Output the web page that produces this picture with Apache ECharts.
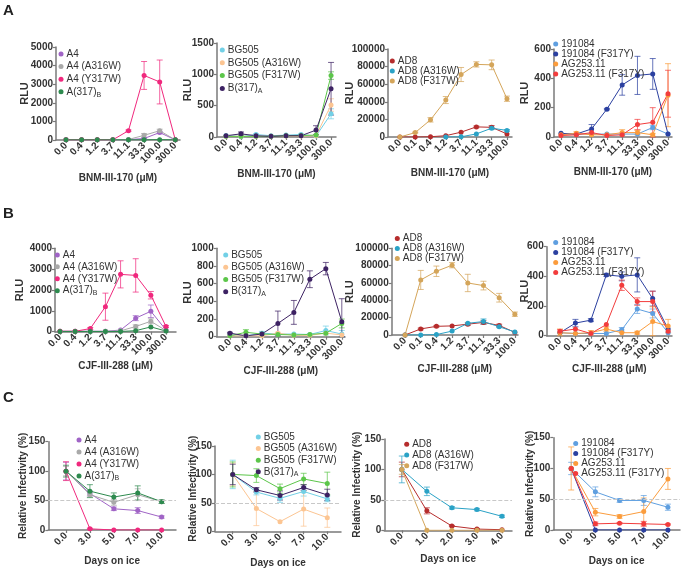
<!DOCTYPE html>
<html><head><meta charset="utf-8">
<script src="https://cdn.jsdelivr.net/npm/echarts@6/dist/echarts.min.js"></script>
<style>html,body{margin:0;padding:0;background:#fff}#c{width:684px;height:569px}</style>
</head><body><div id="c"></div>
<script>
// ---------- categories / tick labels ----------
const concStd = ['0.0','0.4','1.2','3.7','11.1','33.3','100.0','300.0'];
const concAD8 = ['0.0','0.1','0.4','1.2','3.7','11.1','33.3','100.0'];
const daysStd = ['0.0','3.0','5.0','7.0','10.0'];
const daysAD8 = ['0.0','1.0','2.0','3.0','4.0'];

// ---------- Row A : BNM-III-170 ----------
const a1_A4 = [10,10,10,10,20,80,400,10];
const a1_A4_err = [0,0,0,0,0,30,60,0];
const a1_A4A316W = [10,10,10,10,30,250,500,10];
const a1_A4A316W_err = [0,0,0,0,0,100,80,0];
const a1_A4Y317W = [10,10,10,10,500,3470,3120,10];
const a1_A4Y317W_err = [0,0,0,0,40,750,1180,0];
const a1_A317B = [10,10,10,10,10,10,20,10];
const a1_A317B_err = [0,0,0,0,0,0,0,0];

const a2_BG505 = [25,5,40,20,30,40,15,370];
const a2_BG505_err = [0,0,10,0,0,10,0,80];
const a2_BG505A316W = [10,10,10,10,15,15,20,510];
const a2_BG505A316W_err = [0,0,0,0,0,0,0,100];
const a2_BG505F317W = [10,10,10,10,20,25,30,980];
const a2_BG505F317W_err = [0,0,0,0,0,0,0,60];
const a2_B317A = [20,50,20,10,20,20,110,770];
const a2_B317A_err = [0,30,0,0,0,0,70,420];

const a3_AD8 = [0,0,300,1500,5500,11500,11000,3500];
const a3_AD8_err = [0,0,0,0,0,1000,2000,0];
const a3_AD8A316W = [null,null,null,0,200,3500,10000,7500];
const a3_AD8A316W_err = [0,0,0,0,0,0,1000,1000];
const a3_AD8F317W = [0,5000,19500,42000,71000,82500,82000,43500];
const a3_AD8F317W_err = [0,500,2500,4000,8000,3000,5500,3000];

const a4_191084 = [20,20,20,20,20,20,65,20];
const a4_191084_err = [0,0,0,0,0,0,15,0];
const a4_191084F317Y = [25,20,55,190,355,420,430,20];
const a4_191084F317Y_err = [0,0,30,5,70,130,105,0];
const a4_AG253 = [15,25,15,15,30,30,15,285];
const a4_AG253_err = [0,10,0,0,20,15,10,215];
const a4_AG253F317Y = [10,15,30,10,15,85,100,295];
const a4_AG253F317Y_err = [0,0,0,0,0,35,100,160];

// ---------- Row B : CJF-III-288 ----------
const b1_A4 = [20,20,20,20,80,650,980,80];
const b1_A4_err = [0,0,0,0,0,120,300,0];
const b1_A4A316W = [20,20,20,20,40,250,500,50];
const b1_A4A316W_err = [0,0,0,0,0,80,120,0];
const b1_A4Y317W = [20,20,150,1200,2750,2700,1750,250];
const b1_A4Y317W_err = [0,0,50,650,650,800,180,50];
const b1_A317B = [10,10,10,10,10,50,230,30];
const b1_A317B_err = [0,0,0,0,0,0,0,0];

const b2_BG505 = [20,10,40,30,30,25,70,30];
const b2_BG505_err = [0,0,20,0,0,10,50,40];
const b2_BG505A316W = [10,10,10,40,15,15,40,20];
const b2_BG505A316W_err = [0,0,0,10,0,0,0,0];
const b2_BG505F317W = [10,50,30,25,20,25,40,150];
const b2_BG505F317W_err = [0,30,0,0,0,0,0,50];
const b2_B317A = [40,10,30,150,275,650,770,170];
const b2_B317A_err = [10,0,0,140,135,95,70,260];

const b3_AD8 = [0,7000,10000,10500,12500,14500,11000,3000];
const b3_AD8_err = [0,1000,1000,0,1500,2000,1500,0];
const b3_AD8A316W = [0,0,500,4500,13500,15500,9500,3500];
const b3_AD8A316W_err = [0,0,0,0,0,3000,1000,0];
const b3_AD8F317W = [0,63500,73500,80500,60000,57000,43000,24000];
const b3_AD8F317W_err = [0,11000,6000,3000,10000,5000,5000,2500];

const b4_191084 = [20,15,15,15,40,180,150,20];
const b4_191084_err = [0,0,0,0,15,30,30,0];
const b4_191084F317Y = [20,85,105,410,400,410,250,45];
const b4_191084F317Y_err = [0,25,10,10,30,115,50,0];
const b4_AG253 = [20,15,20,45,20,20,95,65];
const b4_AG253_err = [25,0,15,15,0,10,100,45];
const b4_AG253F317Y = [30,45,15,75,340,230,230,30];
const b4_AG253F317Y_err = [10,0,0,0,35,25,70,0];

// ---------- Row C : Days on ice ----------
const c1_A4 = [100,62,36,33,22];
const c1_A4_err = [15,4,3,5,2];
const c1_A4A316W = [100,60,47,60,48];
const c1_A4A316W_err = [8,4,5,10,3];
const c1_A4Y317W = [100,2,0,0,0];
const c1_A4Y317W_err = [16,1,0,0,0];
const c1_A317B = [100,66,56,63,48];
const c1_A317B_err = [10,11,7,12,3];

const c2_BG505 = [100,69,58,70,57];
const c2_BG505_err = [25,5,7,8,5];
const c2_BG505A316W = [100,40,17,39,24];
const c2_BG505A316W_err = [20,30,0,30,17];
const c2_BG505F317W = [100,98,75,92,84];
const c2_BG505F317W_err = [22,12,8,10,20];
const c2_B317A = [100,73,63,77,64];
const c2_B317A_err = [18,4,8,5,10];

const c3_AD8 = [100,32,7,2,1];
const c3_AD8_err = [12,5,1,1,0];
const c3_AD8A316W = [100,64,37,34,23];
const c3_AD8A316W_err = [22,7,2,2,2];
const c3_AD8F317W = [100,0,0,0,0];
const c3_AD8F317W_err = [8,0,0,0,0];

const c4_191084 = [100,62,48,48,37];
const c4_191084_err = [10,8,3,8,5];
const c4_191084F317Y = [100,0,0,0,0];
const c4_191084F317Y_err = [0,0,0,0,0];
const c4_AG253 = [100,29,22,30,83];
const c4_AG253_err = [35,6,3,22,17];
const c4_AG253F317Y = [100,10,11,10,9];
const c4_AG253F317Y_err = [0,3,1,4,1];

// ---------- styling ----------
const FONT = '"Liberation Sans", Arial, Helvetica, sans-serif';
const TXT = '#333333';
const AXIS = '#7a7a7a';
const COL = {
  'A4':'#a064c6','A4 (A316W)':'#a9a9a9','A4 (Y317W)':'#f0287d','A(317)B':'#2d8a4e',
  'BG505':'#72d0e6','BG505 (A316W)':'#fcc592','BG505 (F317W)':'#5cc64a','B(317)A':'#3d2263',
  'AD8':'#b62c2c','AD8 (A316W)':'#2aa2c6','AD8 (F317W)':'#d4a55a',
  '191084':'#5f9fe0','191084 (F317Y)':'#2b40a0','AG253.11':'#fb9c3c','AG253.11 (F317Y)':'#f23c3c'
};

// panel layout: grid rect (px), x-axis range in category-index units, y max/interval, legend placement
const panels = [
  {g:[56,47,124,93],   xr:[-0.64,7.3], ymax:5000, yint:1000, cats:concStd, xname:'BNM-III-170 (μM)', yname:'RLU', yg:31, xg:38,
   lg:[58.5,47.7,12.6], s:[['A4',a1_A4,a1_A4_err],['A4 (A316W)',a1_A4A316W,a1_A4A316W_err],['A4 (Y317W)',a1_A4Y317W,a1_A4Y317W_err],['A(317)B',a1_A317B,a1_A317B_err]]},
  {g:[217,43,119,94],  xr:[-0.6,7.33], ymax:1500, yint:500, cats:concStd, xname:'BNM-III-170 (μM)', yname:'RLU', yg:29.3, xg:37,
   lg:[219.8,43.6,12.8], s:[['BG505',a2_BG505,a2_BG505_err],['BG505 (A316W)',a2_BG505A316W,a2_BG505A316W_err],['BG505 (F317W)',a2_BG505F317W,a2_BG505F317W_err],['B(317)A',a2_B317A,a2_B317A_err]]},
  {g:[388,49,124,88],  xr:[-0.78,7.33], ymax:100000, yint:20000, cats:concAD8, xname:'BNM-III-170 (μM)', yname:'RLU', yg:38, xg:36,
   lg:[389.8,55.9,8.3], s:[['AD8',a3_AD8,a3_AD8_err],['AD8 (A316W)',a3_AD8A316W,a3_AD8A316W_err],['AD8 (F317W)',a3_AD8F317W,a3_AD8F317W_err]]},
  {g:[554,49,118,88],  xr:[-0.46,7.26], ymax:600, yint:200, cats:concStd, xname:'BNM-III-170 (μM)', yname:'RLU', yg:29, xg:35.7,
   lg:[553.2,39,8.7], s:[['191084',a4_191084,a4_191084_err],['191084 (F317Y)',a4_191084F317Y,a4_191084F317Y_err],['AG253.11',a4_AG253,a4_AG253_err],['AG253.11 (F317Y)',a4_AG253F317Y,a4_AG253F317Y_err]]},

  {g:[55,248.3,121,83.4], xr:[-0.33,7.66], ymax:4000, yint:1000, cats:concStd, xname:'CJF-III-288 (μM)', yname:'RLU', yg:35, xg:35,
   lg:[54.8,249,11.9], s:[['A4',b1_A4,b1_A4_err],['A4 (A316W)',b1_A4A316W,b1_A4A316W_err],['A4 (Y317W)',b1_A4Y317W,b1_A4Y317W_err],['A(317)B',b1_A317B,b1_A317B_err]]},
  {g:[216.7,248.3,128.3,88.4], xr:[-0.83,7.2], ymax:1000, yint:200, cats:concStd, xname:'CJF-III-288 (μM)', yname:'RLU', yg:29, xg:35,
   lg:[223.2,249,12.2], s:[['BG505',b2_BG505,b2_BG505_err],['BG505 (A316W)',b2_BG505A316W,b2_BG505A316W_err],['BG505 (F317W)',b2_BG505F317W,b2_BG505F317W_err],['B(317)A',b2_B317A,b2_B317A_err]]},
  {g:[391.7,248.3,126.3,86.7], xr:[-0.85,7.2], ymax:100000, yint:20000, cats:concAD8, xname:'CJF-III-288 (μM)', yname:'RLU', yg:41.7, xg:34,
   lg:[394.8,233.5,9.5], s:[['AD8',b3_AD8,b3_AD8_err],['AD8 (A316W)',b3_AD8A316W,b3_AD8A316W_err],['AD8 (F317W)',b3_AD8F317W,b3_AD8F317W_err]]},
  {g:[546.7,246.7,125.3,89], xr:[-0.86,7.25], ymax:600, yint:200, cats:concStd, xname:'CJF-III-288 (μM)', yname:'RLU', yg:21.7, xg:33.3,
   lg:[553.2,237.5,8.3], s:[['191084',b4_191084,b4_191084_err],['191084 (F317Y)',b4_191084F317Y,b4_191084F317Y_err],['AG253.11',b4_AG253,b4_AG253_err],['AG253.11 (F317Y)',b4_AG253F317Y,b4_AG253F317Y_err]]},

  {g:[48.3,441.7,127.7,88.3], xr:[-0.74,4.6], ymax:150, yint:50, cats:daysStd, xname:'Days on ice', yname:'Relative Infectivity (%)', yg:25, xg:31.7, ref:true,
   lg:[76.5,434,12], s:[['A4',c1_A4,c1_A4_err],['A4 (A316W)',c1_A4A316W,c1_A4A316W_err],['A4 (Y317W)',c1_A4Y317W,c1_A4Y317W_err],['A(317)B',c1_A317B,c1_A317B_err]]},
  {g:[215,446,126,85.7], xr:[-0.75,4.58], ymax:150, yint:50, cats:daysStd, xname:'Days on ice', yname:'Relative Infectivity (%)', yg:21.7, xg:31.7, ref:true,
   lg:[255.8,431.2,11.6], s:[['BG505',c2_BG505,c2_BG505_err],['BG505 (A316W)',c2_BG505A316W,c2_BG505A316W_err],['BG505 (F317W)',c2_BG505F317W,c2_BG505F317W_err],['B(317)A',c2_B317A,c2_B317A_err]]},
  {g:[384.3,439,127.7,91.3], xr:[-0.7,4.4], ymax:150, yint:50, cats:daysAD8, xname:'Days on ice', yname:'Relative Infectivity (%)', yg:26.6, xg:28.7, ref:true,
   lg:[404.2,439,10.7], s:[['AD8',c3_AD8,c3_AD8_err],['AD8 (A316W)',c3_AD8A316W,c3_AD8A316W_err],['AD8 (F317W)',c3_AD8F317W,c3_AD8F317W_err]]},
  {g:[553.3,437.7,126.7,92.3], xr:[-0.74,4.5], ymax:150, yint:50, cats:daysStd, xname:'Days on ice', yname:'Relative Infectivity (%)', yg:23.3, xg:31.7, ref:true,
   lg:[573.2,438.5,8.5], s:[['191084',c4_191084,c4_191084_err],['191084 (F317Y)',c4_191084F317Y,c4_191084F317Y_err],['AG253.11',c4_AG253,c4_AG253_err],['AG253.11 (F317Y)',c4_AG253F317Y,c4_AG253F317Y_err]]}
];

const grid=[], xAxis=[], yAxis=[], series=[], legend=[];
const axLine = {show:true, onZero:false, lineStyle:{color:AXIS, width:1.5}};
const axTick = {show:true, length:3, lineStyle:{color:AXIS, width:1.2}};
const lblStyle = {fontFamily:FONT, fontWeight:'bold', fontSize:10, color:TXT};

function legendFmt(name){
  if(name==='A(317)B') return '{t|A(317)}{s|B}';
  if(name==='B(317)A') return '{t|B(317)}{s|A}';
  return '{t|'+name+'}';
}

panels.forEach((p,i)=>{
  grid.push({left:p.g[0], top:p.g[1], width:p.g[2], height:p.g[3], containLabel:false});
  const idx = p.cats.map((c,k)=>k);
  const cats = p.cats;
  xAxis.push({type:'value', gridIndex:i, min:p.xr[0], max:p.xr[1],
    axisLine:axLine, axisTick:Object.assign({customValues:idx}, axTick), splitLine:{show:false},
    axisLabel:Object.assign({customValues:idx, rotate:45, margin:4, formatter:v=>cats[Math.round(v)]}, lblStyle),
    name:p.xname, nameLocation:'middle', nameGap:p.xg, nameMoveOverlap:false,
    nameTextStyle:Object.assign({}, lblStyle, {verticalAlign:'middle'})});
  yAxis.push({type:'value', gridIndex:i, min:0, max:p.ymax, interval:p.yint,
    axisLine:axLine, axisTick:axTick, splitLine:{show:false},
    axisLabel:Object.assign({margin:3, formatter:v=>String(v)}, lblStyle),
    name:p.yname, nameLocation:'middle', nameGap:p.yg, nameMoveOverlap:false,
    nameTextStyle:Object.assign({}, lblStyle, {fontSize:p.ref?10:11, verticalAlign:'middle'})});
  const L = p.lg[2];
  legend.push({orient:'vertical', left:p.lg[0], top:p.lg[1], padding:0, itemGap:0, itemWidth:5, itemHeight:5, icon:'circle',
    data:p.s.map(s=>s[0]), selectedMode:false, formatter:legendFmt,
    textStyle:{fontFamily:FONT, fontSize:10, color:TXT, lineHeight:L, padding:[0,0,0,-2],
      rich:{t:{fontFamily:FONT, fontSize:10, color:TXT, lineHeight:L}, s:{fontFamily:FONT, fontSize:7, color:TXT, lineHeight:6, verticalAlign:'bottom'}}}});
  p.s.forEach((s,j)=>{
    const [name, vals, errs] = s;
    const color = COL[name];
    series.push({type:'custom', name:'err_'+i+'_'+j, xAxisIndex:i, yAxisIndex:i, z:2, silent:true,
      data: vals.map((v,k)=> (v!=null && errs[k]>0) ? [k, Math.max(0, v-errs[k]), v+errs[k]] : null).filter(Boolean),
      encode:{x:0, y:[1,2]},
      renderItem:(params, api)=>{
        const x=api.value(0);
        const t=api.coord([x, api.value(2)]), b=api.coord([x, api.value(1)]);
        const w=3, st={stroke:color, lineWidth:0.9, opacity:0.8};
        return {type:'group', children:[
          {type:'line', shape:{x1:t[0],y1:t[1],x2:b[0],y2:b[1]}, style:st},
          {type:'line', shape:{x1:t[0]-w,y1:t[1],x2:t[0]+w,y2:t[1]}, style:st},
          {type:'line', shape:{x1:b[0]-w,y1:b[1],x2:b[0]+w,y2:b[1]}, style:st}]};
      }});
    const ser = {type:'line', name:name, xAxisIndex:i, yAxisIndex:i, z:3,
      data: vals.map((v,k)=>[k, v==null?'-':v]),
      symbol:'circle', symbolSize:5, showSymbol:true,
      itemStyle:{color:color}, lineStyle:{color:color, width:1}, animation:false};
    if(p.ref && j===0){
      ser.markLine = {silent:true, symbol:'none', label:{show:false}, animation:false,
        lineStyle:{color:'#c8c8c8', type:'dashed', width:1}, data:[{yAxis:50}]};
    }
    series.push(ser);
  });
});

const chart = echarts.init(document.getElementById('c'), null, {renderer:'canvas'});
chart.setOption({
  animation:false, backgroundColor:'#ffffff',
  textStyle:{fontFamily:FONT},
  grid, xAxis, yAxis, series, legend,
  graphic:[
    {type:'text', left:3, top:3, style:{text:'A', font:'bold 15px '+FONT, fill:'#222'}},
    {type:'text', left:3, top:206, style:{text:'B', font:'bold 15px '+FONT, fill:'#222'}},
    {type:'text', left:3, top:390, style:{text:'C', font:'bold 15px '+FONT, fill:'#222'}}
  ]
});
</script></body></html>
